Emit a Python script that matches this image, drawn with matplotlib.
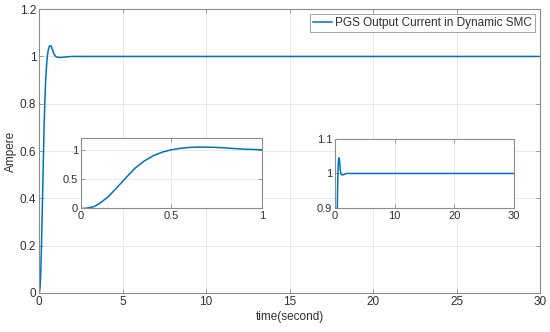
import matplotlib
matplotlib.use("Agg")
import matplotlib.pyplot as plt

# PGS output current
time_s = [0, 0.03, 0.07, 0.1, 0.15, 0.2, 0.25, 0.3, 0.35, 0.4, 0.45, 0.5,
          0.55, 0.6, 0.65, 0.7, 0.75, 0.8, 0.85, 0.9, 0.95, 1.0,
          1.1, 1.2, 1.35, 1.5, 1.75, 2.0, 5, 10, 15, 20, 25, 30]
current_a = [0, 0.005, 0.03, 0.08, 0.2, 0.36, 0.53, 0.69, 0.81, 0.9, 0.96, 1.0,
             1.025, 1.04, 1.045, 1.045, 1.04, 1.03, 1.02, 1.01, 1.005, 1.0,
             0.997, 0.996, 0.996, 0.997, 0.999, 1.0, 1.0, 1.0, 1.0, 1.0, 1.0, 1.0]

main_xticks = [0, 5, 10, 15, 20, 25, 30]
main_yticks = [0, 0.2, 0.4, 0.6, 0.8, 1.0, 1.2]
zoom1_xticks = [0, 0.5, 1]
zoom1_yticks = [0, 0.5, 1]
zoom2_xticks = [0, 10, 20, 30]
zoom2_yticks = [0.9, 1, 1.1]

LINE = "#0072BD"
AXCOL = "#8c8c8c"
TXT = "#303030"

plt.rcParams["font.family"] = ["Liberation Sans", "DejaVu Sans"]


def style_axes(ax, fs):
    for s in ax.spines.values():
        s.set_color(AXCOL)
        s.set_linewidth(0.8)
    ax.tick_params(direction="in", top=True, right=True, length=3,
                   width=0.6, color=AXCOL, labelsize=fs, labelcolor=TXT, pad=2)
    ax.grid(True, color="#e6e6e6", linewidth=0.6)
    ax.set_axisbelow(True)


fig = plt.figure(figsize=(5.5, 3.32), dpi=100)

ax = fig.add_axes([0.0709, 0.1175, 0.911, 0.855])
ax.plot(time_s, current_a, color=LINE, lw=1.1, label="PGS Output Current in Dynamic SMC")
ax.set_xlim(0, 30)
ax.set_ylim(0, 1.2)
ax.set_xticks(main_xticks)
ax.set_yticks(main_yticks)
ax.set_yticklabels(["0", "0.2", "0.4", "0.6", "0.8", "1", "1.2"])
style_axes(ax, 8.5)
ax.set_xlabel("time(second)", fontsize=8.5, color=TXT, labelpad=2)
ax.set_ylabel("Ampere", fontsize=8.5, color=TXT, labelpad=2)
leg = ax.legend(loc="upper right", fontsize=8.5, frameon=True, fancybox=False,
                handlelength=1.6, handletextpad=0.3, borderpad=0.25,
                borderaxespad=0.4)
leg.get_frame().set_edgecolor(AXCOL)
leg.get_frame().set_linewidth(0.7)
for t in leg.get_texts():
    t.set_color(TXT)

# zoom on the first second
ax1 = fig.add_axes([0.1473, 0.372, 0.329, 0.2123])
ax1.plot(time_s, current_a, color=LINE, lw=1.1)
ax1.set_xlim(0, 1)
ax1.set_ylim(0, 1.2)
ax1.set_xticks(zoom1_xticks)
ax1.set_yticks(zoom1_yticks)
ax1.set_xticklabels(["0", "0.5", "1"])
ax1.set_yticklabels(["0", "0.5", "1"])
style_axes(ax1, 8)

# zoom around steady state
ax2 = fig.add_axes([0.609, 0.3735, 0.3255, 0.208])
ax2.plot(time_s, current_a, color=LINE, lw=1.1)
ax2.set_xlim(0, 30)
ax2.set_ylim(0.9, 1.1)
ax2.set_xticks(zoom2_xticks)
ax2.set_yticks(zoom2_yticks)
ax2.set_yticklabels(["0.9", "1", "1.1"])
style_axes(ax2, 8)

fig.savefig("out.png", dpi=100)
